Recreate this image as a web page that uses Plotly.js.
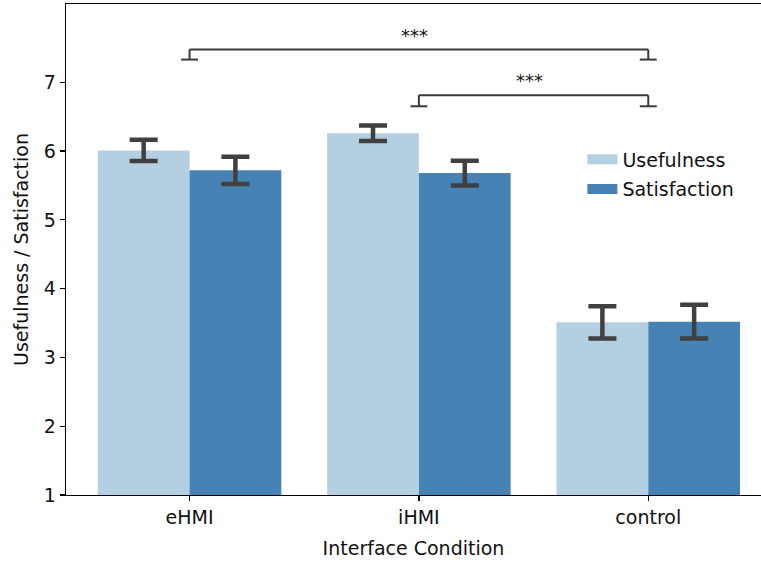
<!DOCTYPE html>
<html>
<head>
<meta charset="utf-8">
<script src="https://cdn.plot.ly/plotly-3.0.1.min.js"></script>
<style>html,body{margin:0;padding:0;background:#fff}#chart{width:761px;height:562px}</style>
</head>
<body>
<div id="chart"></div>
<script>
// Data
var categories = ["eHMI", "iHMI", "control"];
var usefulness = [6.01, 6.26, 3.51];
var usefulnessErr = [0.155, 0.113, 0.235];
var satisfaction = [5.72, 5.68, 3.52];
var satisfactionErr = [0.199, 0.18, 0.245];
var yTicks = [1, 2, 3, 4, 5, 6, 7];
// significance brackets: [from category index, to category index, top y, leg bottom y, label]
var bracketFrom = [0, 1];
var bracketTo = [2, 2];
var bracketTop = [7.476, 6.811];
var bracketFoot = [7.33, 6.651];
var bracketLabel = ["***", "***"];

var FONT = "DejaVu Sans";
var ERR = "#404040";
var LIGHT = "#b4cfe1";
var DARK = "#4682b4";
var capHalf = 0.037;

var traces = [
  {type: "bar", name: "Usefulness", x: [0, 1, 2], y: usefulness, showlegend: false,
   marker: {color: LIGHT, line: {width: 0}},
   error_y: {type: "data", array: usefulnessErr, visible: true, color: ERR, thickness: 4.5, width: 14}},
  {type: "bar", name: "Satisfaction", x: [0, 1, 2], y: satisfaction, showlegend: false,
   marker: {color: DARK, line: {width: 0}},
   error_y: {type: "data", array: satisfactionErr, visible: true, color: ERR, thickness: 4.5, width: 14}},
  // legend entries only (no marks drawn)
  {type: "scatter", mode: "lines", name: "Usefulness", x: [null], y: [null], legendgroup: "u",
   line: {color: LIGHT, width: 13}},
  {type: "scatter", mode: "lines", name: "Satisfaction", x: [null], y: [null], legendgroup: "s",
   line: {color: DARK, width: 13}}
];

var shapes = [];
var annotations = [];
for (var i = 0; i < bracketFrom.length; i++) {
  var a = bracketFrom[i], b = bracketTo[i], t = bracketTop[i], f = bracketFoot[i];
  var ln = {color: "#3a3a3a", width: 2};
  shapes.push({type: "line", xref: "x", yref: "y", x0: a, x1: b, y0: t, y1: t, line: ln});
  shapes.push({type: "line", xref: "x", yref: "y", x0: a, x1: a, y0: t, y1: f, line: ln});
  shapes.push({type: "line", xref: "x", yref: "y", x0: b, x1: b, y0: t, y1: f, line: ln});
  shapes.push({type: "line", xref: "x", yref: "y", x0: a - capHalf, x1: a + capHalf, y0: f, y1: f, line: ln});
  shapes.push({type: "line", xref: "x", yref: "y", x0: b - capHalf, x1: b + capHalf, y0: f, y1: f, line: ln});
  annotations.push({xref: "x", yref: "y", x: (a + b) / 2 - 0.02, y: t, text: bracketLabel[i],
    showarrow: false, xanchor: "center", yanchor: "bottom", yshift: 2, font: {family: FONT, size: 18, color: "#111"}});
}

var layout = {
  width: 761, height: 562,
  margin: {l: 66, r: 0, t: 4, b: 67},
  paper_bgcolor: "#fff", plot_bgcolor: "#fff",
  font: {family: FONT, size: 19, color: "#111"},
  barmode: "group", bargap: 0.2, bargroupgap: 0,
  xaxis: {range: [-0.5386, 2.4915], tickvals: [0, 1, 2], ticktext: categories,
    showgrid: false, zeroline: false, showline: true, mirror: true, linecolor: "#000", linewidth: 1.3,
    ticks: "outside", ticklen: 5, tickwidth: 1.2, tickcolor: "#000",
    tickfont: {family: FONT, size: 19, color: "#111"},
    title: {text: "Interface Condition", font: {family: FONT, size: 19, color: "#111"}, standoff: 14}},
  yaxis: {range: [1, 8.138], tickvals: yTicks, ticktext: yTicks.map(String),
    showgrid: false, zeroline: false, showline: true, linecolor: "#000", linewidth: 1.3,
    ticks: "outside", ticklen: 5, tickwidth: 1.2, tickcolor: "#000",
    tickfont: {family: FONT, size: 19, color: "#111"},
    title: {text: "Usefulness / Satisfaction", font: {family: FONT, size: 19, color: "#111"}, standoff: 10}},
  legend: {x: 0.743, y: 0.722, xanchor: "left", yanchor: "top", bgcolor: "rgba(0,0,0,0)",
    traceorder: "grouped", tracegroupgap: 2,
    font: {family: FONT, size: 19, color: "#111"}},
  shapes: shapes,
  annotations: annotations
};

Plotly.newPlot("chart", traces, layout, {displayModeBar: false, staticPlot: true});
</script>
</body>
</html>
